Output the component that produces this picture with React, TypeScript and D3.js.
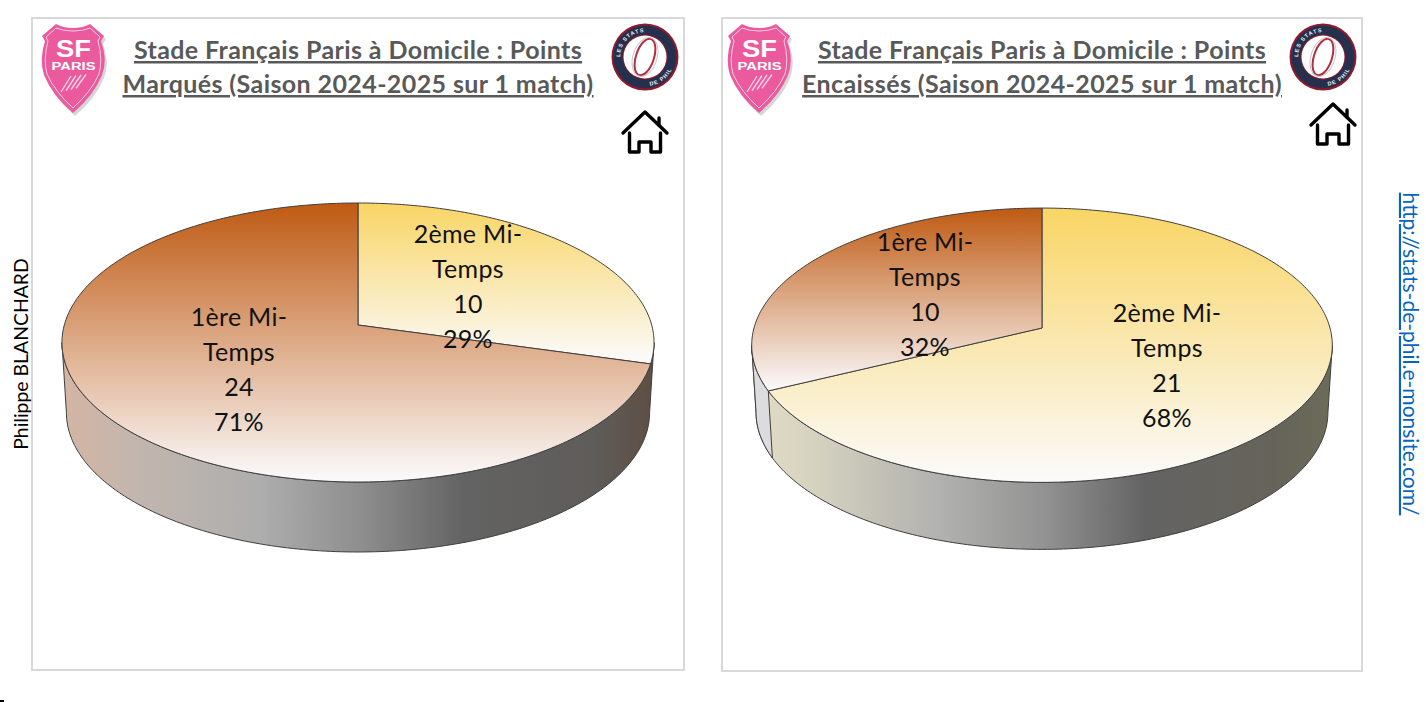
import React, { useEffect, useRef } from "react";
import * as d3 from "d3";

const titleLines = [
  ["Stade Français Paris à Domicile : Points", "Marqués (Saison 2024-2025 sur 1 match)"],
  ["Stade Français Paris à Domicile : Points", "Encaissés (Saison 2024-2025 sur 1 match)"],
];
const halves = ["1ère Mi-Temps", "2ème Mi-Temps"];
const scoredValues = [24, 10];
const concededValues = [10, 21];
const scoredPercent = ["71%", "29%"];
const concededPercent = ["32%", "68%"];

const FONT = "Lato, 'Open Sans', sans-serif";

// the disc is seen in perspective: front half looks bigger than the back
function project(geo, angle, drop = 0, shrink = 1) {
  const u = Math.sin(angle);
  const v = -Math.cos(angle);
  const w = 1 - geo.p * v;
  return [geo.cx + (geo.b * shrink * u) / w, geo.cy + (geo.a * v) / w + drop];
}

const rim = (geo, a0, a1, drop = 0, shrink = 1) => {
  const n = Math.max(2, Math.ceil(Math.abs(a1 - a0) * 60));
  return d3.range(n + 1).map((i) => project(geo, a0 + ((a1 - a0) * i) / n, drop, shrink));
};

function drawPie(svg, defs, id, geo, values, percents, labelPos) {
  const line = d3.line();
  const pie = d3.pie().sort(null).value((d) => d);
  // 2eme mi-temps starts at 12 o'clock, 1ere follows it
  const order = [1, 0];
  const arcs = pie(order.map((i) => values[i]));

  const stroke = "#3f3f3f";
  const colours = ["#bf5a12", "#f9d565"];
  const shrink = 0.985;

  const g = svg.append("g");

  // side wall, from one tangent of the rim round the front to the other
  const front0 = Math.acos(-geo.p);
  const front1 = 2 * Math.PI - front0;
  const grad = defs
    .append("linearGradient")
    .attr("id", `${id}-side`)
    .attr("gradientUnits", "userSpaceOnUse")
    .attr("x1", geo.cx - geo.b)
    .attr("x2", geo.cx + geo.b)
    .attr("y1", 0)
    .attr("y2", 0);
  geo.side.forEach(([o, c]) => grad.append("stop").attr("offset", o).attr("stop-color", c));
  const wall = rim(geo, front0, front1).concat(rim(geo, front1, front0, geo.h, shrink));
  g.append("path")
    .attr("d", line(wall) + "Z")
    .attr("fill", `url(#${id}-side)`)
    .attr("stroke", stroke)
    .attr("stroke-width", 1);

  if (geo.cut) {
    // the small 2nd slice wall on the left, paler than the rest
    const a = arcs[0].endAngle;
    const small = rim(geo, a, front1).concat(rim(geo, front1, a, geo.h, shrink));
    g.append("path").attr("d", line(small) + "Z").attr("fill", geo.cut).attr("stroke", stroke).attr("stroke-width", 1);
  }

  // top face, gradient runs over each slice's own box
  arcs.forEach((a, k) => {
    const i = order[k];
    const gid = `${id}-top-${i}`;
    const tg = defs.append("linearGradient").attr("id", gid).attr("x1", 0).attr("x2", 0).attr("y1", 0).attr("y2", 1);
    tg.append("stop").attr("offset", 0).attr("stop-color", colours[i]);
    tg.append("stop").attr("offset", 1).attr("stop-color", "#fbfbfd");
    const pts = [[geo.cx, geo.cy], ...rim(geo, a.startAngle, a.endAngle)];
    g.append("path")
      .attr("d", line(pts) + "Z")
      .attr("fill", `url(#${gid})`)
      .attr("stroke", stroke)
      .attr("stroke-width", 1);
  });

  // data labels
  order.forEach((i) => {
    const [x, y] = labelPos[i];
    const [w1, w2] = halves[i].split("Mi-");
    const t = g
      .append("text")
      .attr("text-anchor", "middle")
      .attr("font-family", FONT)
      .attr("font-size", 25)
      .attr("letter-spacing", 0.3)
      .attr("fill", "#111");
    [`${w1}Mi-`, w2, String(values[i]), percents[i]].forEach((s, n) => {
      t.append("tspan").attr("x", x).attr("y", y + n * 35).text(s);
    });
  });
}

function drawShield(svg, x, y) {
  const g = svg.append("g").attr("transform", `translate(${x},${y})`);
  const outline =
    "M37,8 Q27,8 20,4 L6,16 L9,21 Q3,40 8,55 Q16,75 37,93 Q58,75 66,55 Q72,40 65,21 L68,16 L54,4 Q47,8 37,8 Z";
  g.append("path").attr("d", outline).attr("fill", "#777").attr("opacity", 0.3).attr("transform", "translate(2,3)");
  g.append("path").attr("d", outline).attr("fill", "#ec5a9e");
  g.append("path")
    .attr("d", "M37,11 Q27,11 20,8 L10,17 L12,21 Q7,40 11,54 Q19,72 37,88 Q55,72 63,54 Q67,40 62,21 L64,17 L54,8 Q47,11 37,11 Z")
    .attr("fill", "none")
    .attr("stroke", "#fbd0e4")
    .attr("stroke-width", 1);
  g.append("text")
    .attr("x", 37.5)
    .attr("y", 37)
    .attr("text-anchor", "middle")
    .attr("font-family", "'Liberation Sans', sans-serif")
    .attr("font-weight", 700)
    .attr("font-size", 23)
    .attr("textLength", 35)
    .attr("lengthAdjust", "spacingAndGlyphs")
    .attr("fill", "#fff")
    .text("SF");
  g.append("text")
    .attr("x", 37.5)
    .attr("y", 50)
    .attr("text-anchor", "middle")
    .attr("font-family", "'Liberation Sans', sans-serif")
    .attr("font-weight", 700)
    .attr("font-size", 11)
    .attr("textLength", 44)
    .attr("lengthAdjust", "spacingAndGlyphs")
    .attr("fill", "#fff")
    .text("PARIS");
  [0, 5, 10, 15].forEach((d) => {
    g.append("line")
      .attr("x1", 25 + d)
      .attr("y1", 72 - d * 0.25)
      .attr("x2", 35 + d)
      .attr("y2", 56 - d * 0.1)
      .attr("stroke", "#fbd0e4")
      .attr("stroke-width", 1.4);
  });
}

function drawRing(svg, id, cx, cy, r) {
  const g = svg.append("g").attr("transform", `translate(${cx},${cy})`);
  g.append("circle").attr("r", r).attr("fill", "#8f1a2b");
  g.append("circle").attr("r", r - 2).attr("fill", "#25304f");
  g.append("circle").attr("r", r - 11).attr("fill", "#8f1a2b");
  g.append("circle").attr("r", r - 12).attr("fill", "#fff");
  g.append("ellipse")
    .attr("rx", 9)
    .attr("ry", 19)
    .attr("transform", "rotate(18)")
    .attr("fill", "none")
    .attr("stroke", "#b0303f")
    .attr("stroke-width", 2);
  g.append("ellipse")
    .attr("rx", 12)
    .attr("ry", 20)
    .attr("transform", "rotate(18)")
    .attr("fill", "none")
    .attr("stroke", "#c9c9c9")
    .attr("stroke-width", 1);
  const pathR = r - 8.5;
  g.append("path")
    .attr("id", `${id}-top`)
    .attr("fill", "none")
    .attr("d", `M${-pathR},0 A${pathR},${pathR} 0 0 1 0,${-pathR}`);
  g.append("path")
    .attr("id", `${id}-bot`)
    .attr("fill", "none")
    .attr("d", `M${pathR * 0.2},${pathR * 1.15} A${pathR + 3},${pathR + 3} 0 0 0 ${pathR * 1.15},${pathR * 0.2}`);
  g.append("text")
    .attr("font-family", "'Liberation Sans', sans-serif")
    .attr("font-weight", 700)
    .attr("font-size", 5.5)
    .attr("letter-spacing", 1)
    .attr("fill", "#eee")
    .append("textPath")
    .attr("href", `#${id}-top`)
    .text("LES STATS");
  g.append("text")
    .attr("font-family", "'Liberation Sans', sans-serif")
    .attr("font-weight", 700)
    .attr("font-size", 5.5)
    .attr("letter-spacing", 1)
    .attr("fill", "#eee")
    .append("textPath")
    .attr("href", `#${id}-bot`)
    .text("DE PHIL");
}

function drawHouse(svg, x, y) {
  const g = svg
    .append("g")
    .attr("transform", `translate(${x},${y})`)
    .attr("fill", "none")
    .attr("stroke", "#000")
    .attr("stroke-width", 3.4)
    .attr("stroke-linejoin", "round")
    .attr("stroke-linecap", "round");
  g.append("path").attr("d", "M1,22 L23,1 L45,22");
  g.append("path").attr("d", "M37,14 L37,7");
  g.append("path").attr("d", "M7.5,22 V41 H17 V31 H29 V41 H38.5 V22");
}

const App = () => {
  const ref = useRef<SVGSVGElement>(null);

  useEffect(() => {
    const svg = d3.select(ref.current);
    svg.selectAll("*").remove();
    const defs = svg.append("defs");

    const panels = [
      { x: 32, y: 18, w: 652, h: 652, cx: 358, shield: 36, ring: 645, house: 622, houseY: 111 },
      { x: 722, y: 18, w: 640, h: 653, cx: 1042, shield: 722, ring: 1323, house: 1310, houseY: 103 },
    ];

    panels.forEach((p, k) => {
      svg
        .append("rect")
        .attr("x", p.x)
        .attr("y", p.y)
        .attr("width", p.w)
        .attr("height", p.h)
        .attr("fill", "#fff")
        .attr("stroke", "#d9d9d9")
        .attr("stroke-width", 2);
      titleLines[k].forEach((s, n) => {
        svg
          .append("text")
          .attr("x", p.cx)
          .attr("y", 59 + n * 34)
          .attr("text-anchor", "middle")
          .attr("font-family", FONT)
          .attr("font-size", 25)
          .attr("letter-spacing", 0.4)
          .attr("font-weight", 700)
          .attr("fill", "#595959")
          .attr("text-decoration", "underline")
          .text(s);
      });
      drawShield(svg, p.shield, 20);
      drawRing(svg, `ring${k}`, p.ring, 57, 33.5);
      drawHouse(svg, p.house, p.houseY);
    });

    const p = 0.1255;
    drawPie(
      svg,
      defs,
      "scored",
      {
        cx: 358, cy: 325, a: 137.3, b: 293.7, p, h: 70,
        side: [
          [0, "#d4b5a3"],
          [0.12, "#c2b6ae"],
          [0.33, "#aeaeae"],
          [0.5, "#8f8f8f"],
          [0.68, "#636363"],
          [0.9, "#5f5c59"],
          [1, "#5e4f45"],
        ],
      },
      scoredValues,
      scoredPercent,
      [[239, 326], [468, 243]]
    );
    drawPie(
      svg,
      defs,
      "conceded",
      {
        cx: 1042, cy: 328, a: 135, b: 288, p, h: 67,
        cut: "#dcdcde",
        side: [
          [0, "#e2dcc4"],
          [0.1, "#d6d3c0"],
          [0.33, "#b0b0ae"],
          [0.5, "#939393"],
          [0.68, "#636363"],
          [0.9, "#66645a"],
          [1, "#6c6a58"],
        ],
      },
      concededValues,
      concededPercent,
      [[925, 251], [1167, 322]]
    );

    svg
      .append("text")
      .attr("transform", "translate(28,354) rotate(-90)")
      .attr("text-anchor", "middle")
      .attr("font-family", FONT)
      .attr("font-size", 19.4)
      .attr("fill", "#000")
      .text("Philippe BLANCHARD");

    svg
      .append("text")
      .attr("transform", "translate(1403,354) rotate(90)")
      .attr("text-anchor", "middle")
      .attr("font-family", FONT)
      .attr("font-size", 21)
      .attr("fill", "#0563c1")
      .attr("text-decoration", "underline")
      .text("http://stats-de-phil.e-monsite.com/");

    svg.append("rect").attr("x", 0).attr("y", 700).attr("width", 4).attr("height", 2).attr("fill", "#000");
  }, []);

  return (
    <svg
      ref={ref}
      width={1426}
      height={702}
      style={{ position: "absolute", left: 0, top: 0, background: "#fff" }}
    />
  );
};

export default App;
